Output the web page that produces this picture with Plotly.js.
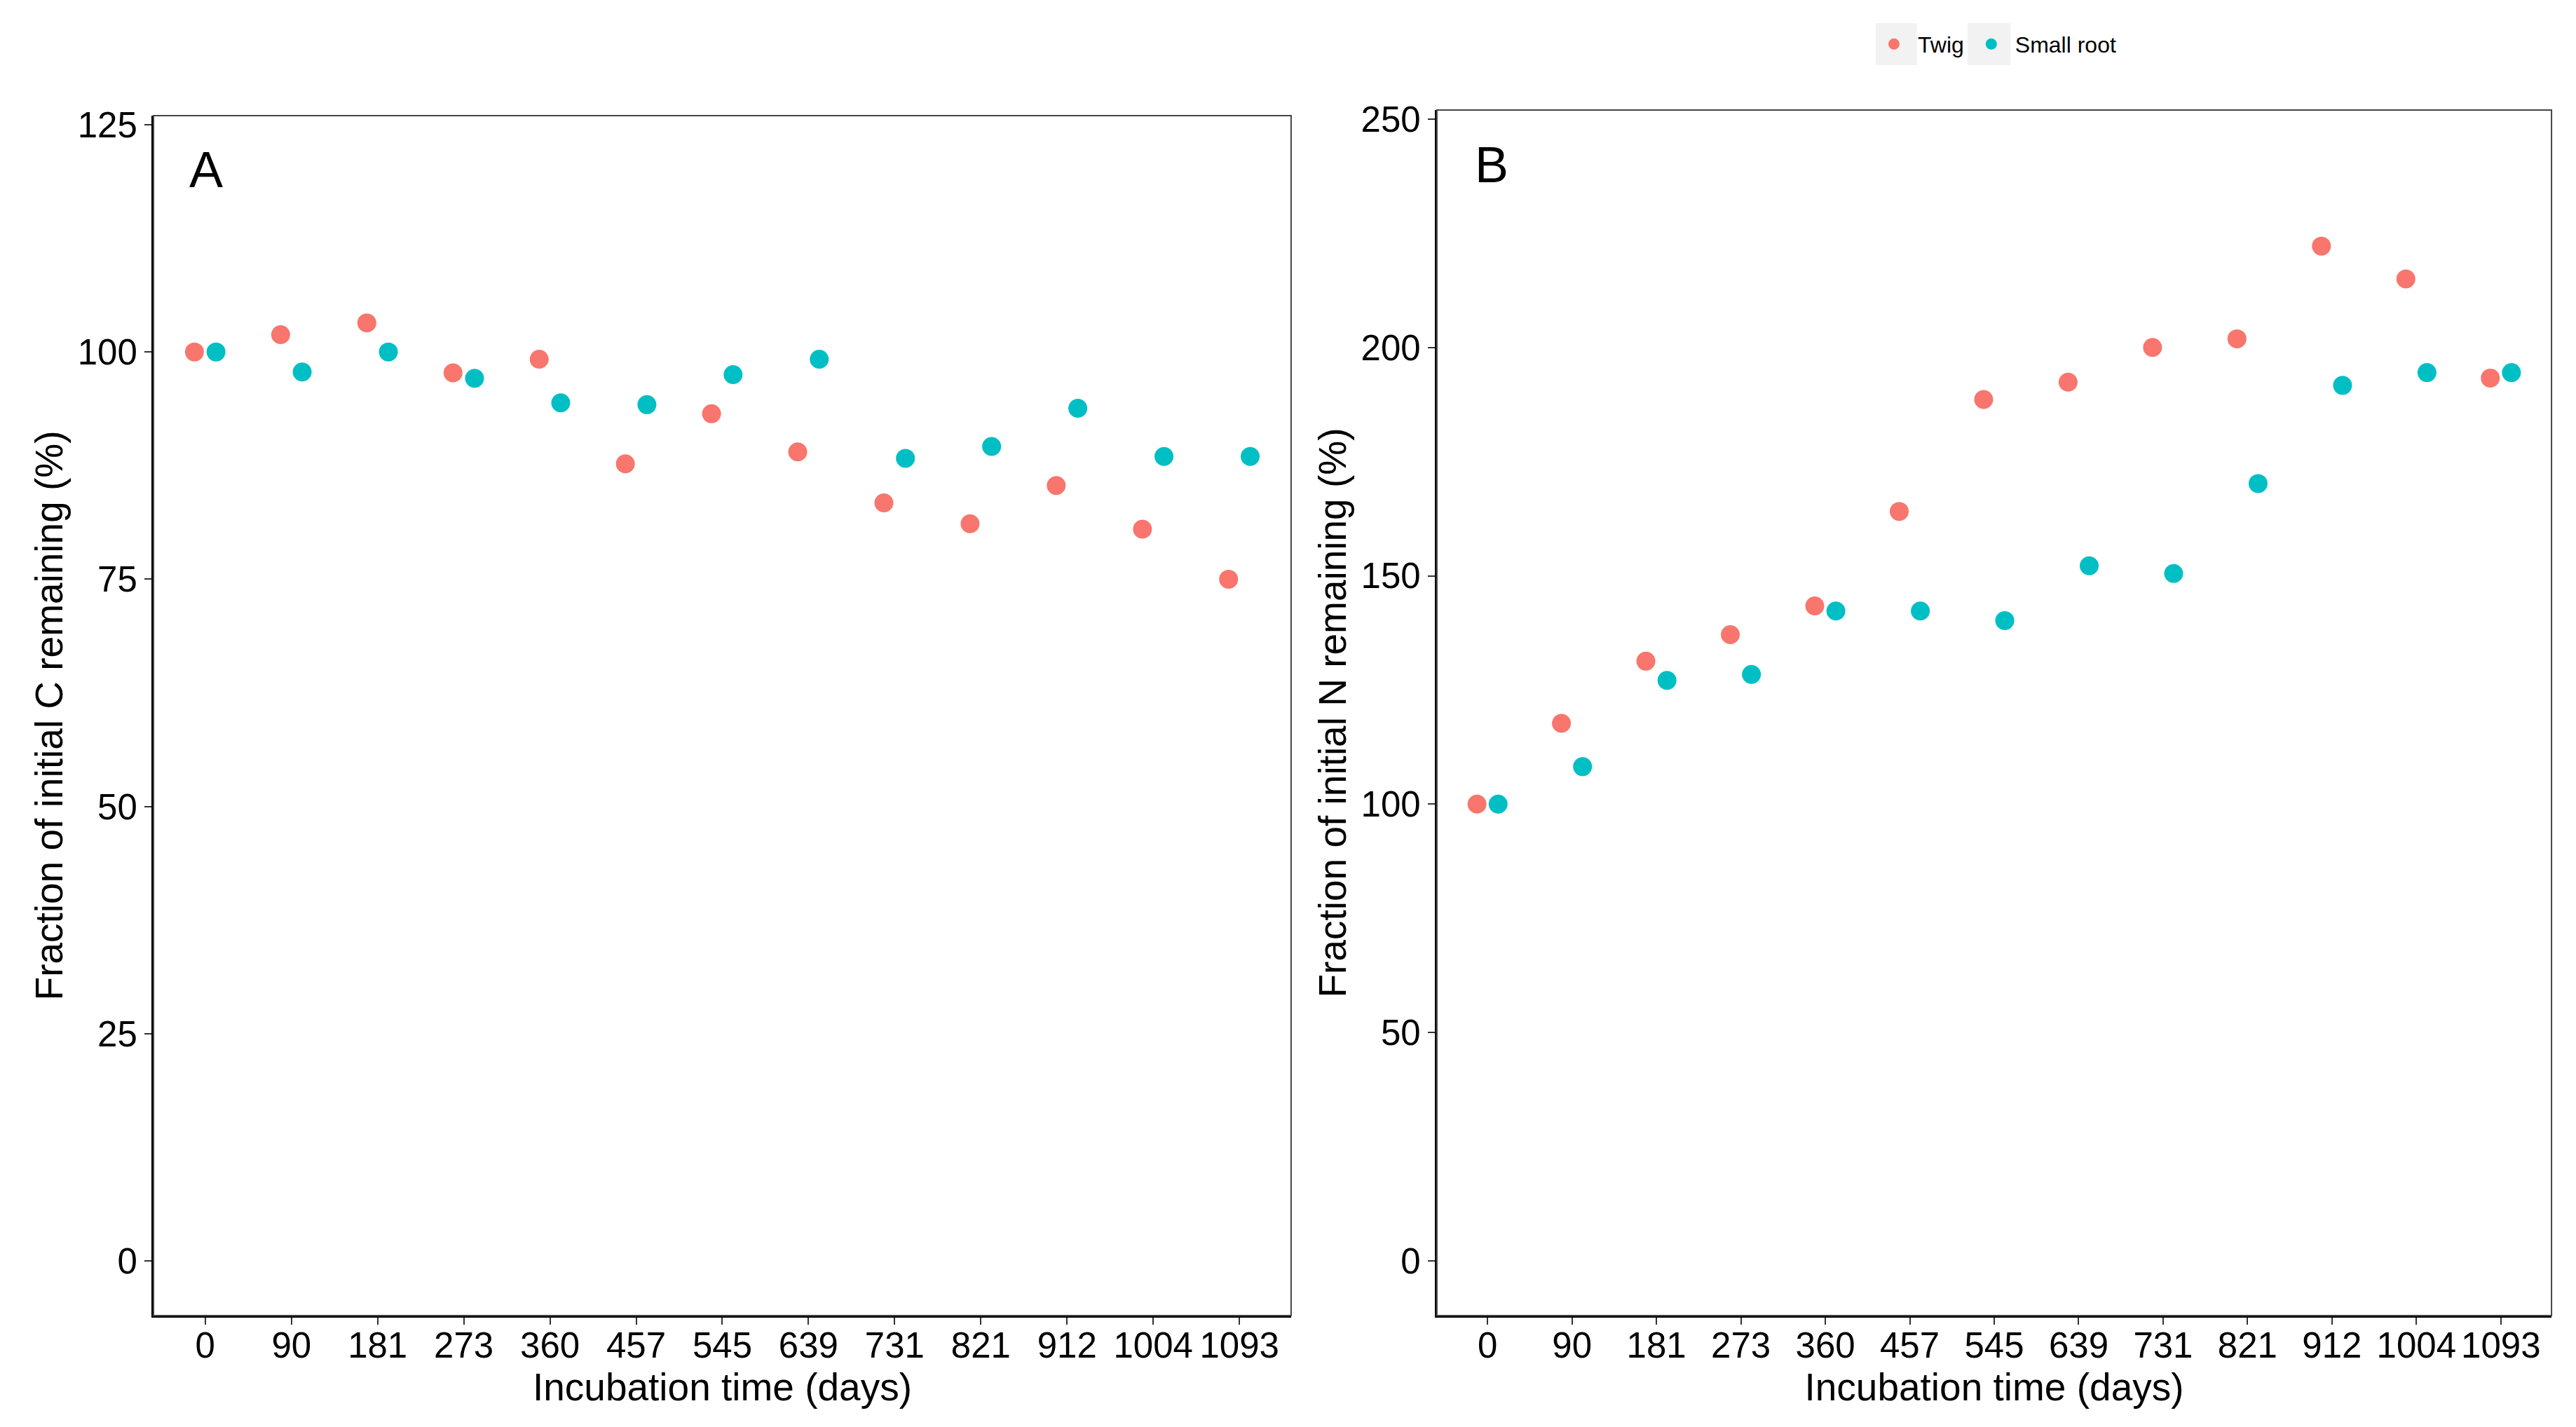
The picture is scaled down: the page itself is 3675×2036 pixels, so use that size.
<!DOCTYPE html>
<html>
<head>
<meta charset="utf-8">
<script src="https://cdn.plot.ly/plotly-3.0.1.min.js"></script>
<style>html,body{margin:0;padding:0;background:#fff;}#chart{width:3675px;height:2036px;}</style>
</head>
<body>
<div id="chart"></div>
<script>
// Incubation times (days) used as discrete categories
const days = ["0","90","181","273","360","457","545","639","731","821","912","1004","1093"];
// Panel A: fraction of initial C remaining (%)
const twigC = [100, 101.9, 103.2, 97.7, 99.2, 87.7, 93.2, 89.0, 83.4, 81.1, 85.3, 80.5, 75.0];
const rootC = [100, 97.8, 100, 97.1, 94.4, 94.2, 97.5, 99.2, 88.3, 89.6, 93.8, 88.5, 88.5];
// Panel B: fraction of initial N remaining (%)
const twigN = [100, 117.7, 131.3, 137.1, 143.4, 164.1, 188.6, 192.4, 200.0, 201.9, 222.2, 215.0, 193.3];
const rootN = [100, 108.2, 127.1, 128.4, 142.3, 142.3, 140.2, 152.2, 150.5, 170.2, 191.7, 194.5, 194.5];
const seriesNames = ["Twig", "Small root"];
const yTicksA = [0, 25, 50, 75, 100, 125];
const yTicksB = [0, 50, 100, 150, 200, 250];

const colTwig = "#F8766D", colRoot = "#00BFC4";
const FONT = "Liberation Sans, Arial, sans-serif";
const mk = (c) => ({color: c, size: 27, line: {width: 0}});

const traces = [
  {type: "scatter", mode: "markers", name: seriesNames[0], x: days, y: twigC, xaxis: "x", yaxis: "y",
   marker: mk(colTwig), offsetgroup: "twig", legendgroup: "twig", showlegend: true},
  {type: "scatter", mode: "markers", name: seriesNames[1], x: days, y: rootC, xaxis: "x", yaxis: "y",
   marker: mk(colRoot), offsetgroup: "root", legendgroup: "root", showlegend: true},
  {type: "scatter", mode: "markers", name: seriesNames[0], x: days, y: twigN, xaxis: "x2", yaxis: "y2",
   marker: mk(colTwig), offsetgroup: "twig", legendgroup: "twig", showlegend: false},
  {type: "scatter", mode: "markers", name: seriesNames[1], x: days, y: rootN, xaxis: "x2", yaxis: "y2",
   marker: mk(colRoot), offsetgroup: "root", legendgroup: "root", showlegend: false}
];

const tickFont = {family: FONT, size: 51, color: "#000"};
const titleFont = {family: FONT, size: 55, color: "#000"};

function xAxis(domain, anchor) {
  return {
    type: "category", domain: domain, anchor: anchor, range: [-0.6, 12.6],
    categoryorder: "array", categoryarray: days,
    showline: true, linecolor: "#000", linewidth: 3, mirror: false,
    ticks: "outside", ticklen: 10, tickwidth: 2, tickcolor: "#333",
    tickfont: tickFont, tickangle: 0, ticklabelstandoff: -14, showgrid: false, zeroline: false,
    title: {text: "Incubation time (days)", font: titleFont, standoff: 8}
  };
}
function yAxis(domain, anchor, range, tv, title, standoff) {
  return {
    domain: domain, anchor: anchor, range: range, tickvals: tv, ticktext: tv.map(String),
    showline: true, linecolor: "#000", linewidth: 3, mirror: false,
    ticks: "outside", ticklen: 10, tickwidth: 2, tickcolor: "#333",
    tickfont: tickFont, showgrid: false, zeroline: false,
    title: {text: title, font: titleFont, standoff: standoff}
  };
}

const border = (xr, yr) => ({type: "rect", xref: xr, yref: yr, x0: 0, x1: 1, y0: 0, y1: 1,
  line: {color: "#444", width: 2}, fillcolor: "rgba(0,0,0,0)", layer: "above"});
// light grey legend key backgrounds (paper fractions)
const keyBox = (x0, x1) => ({type: "rect", xref: "paper", yref: "paper", x0: x0, x1: x1,
  y0: 1 - 93 / 2036, y1: 1 - 33 / 2036, line: {width: 0}, fillcolor: "#f2f2f2", layer: "below"});

const layout = {
  width: 3675, height: 2036,
  margin: {l: 0, r: 0, t: 0, b: 0, pad: 0},
  paper_bgcolor: "#fff", plot_bgcolor: "#fff",
  font: {family: FONT, color: "#000"},
  scattermode: "group", scattergap: 0.5,
  xaxis: xAxis([0.0596, 0.5012], "y"),
  yaxis: yAxis([0.0781, 0.9190], "x", [-6, 126], yTicksA, "Fraction of initial C remaining (%)", 4),
  xaxis2: xAxis([0.5578, 0.9905], "y2"),
  yaxis2: yAxis([0.0781, 0.9229], "x2", [-12, 252], yTicksB, "Fraction of initial N remaining (%)", 4),
  showlegend: true,
  legend: {orientation: "h", x: 2668 / 3675, xanchor: "left", y: 1 - 63 / 2036, yanchor: "middle",
    font: {family: FONT, size: 32, color: "#000"}, bgcolor: "rgba(0,0,0,0)", itemsizing: "trace",
    itemwidth: 58, traceorder: "normal"},
  shapes: [border("x domain", "y domain"), border("x2 domain", "y2 domain"),
    keyBox(2676 / 3675, 2735 / 3675), keyBox(2807 / 3675, 2868 / 3675)],
  annotations: [
    {text: "A", xref: "x domain", yref: "y domain", x: 0.030, y: 0.9547, xanchor: "left", yanchor: "middle",
     showarrow: false, font: {family: FONT, size: 72, color: "#000"}},
    {text: "B", xref: "x2 domain", yref: "y2 domain", x: 0.0327, y: 0.9544, xanchor: "left", yanchor: "middle",
     showarrow: false, font: {family: FONT, size: 72, color: "#000"}}
  ]
};

Plotly.newPlot("chart", traces, layout, {staticPlot: true, displayModeBar: false});
</script>
</body>
</html>
